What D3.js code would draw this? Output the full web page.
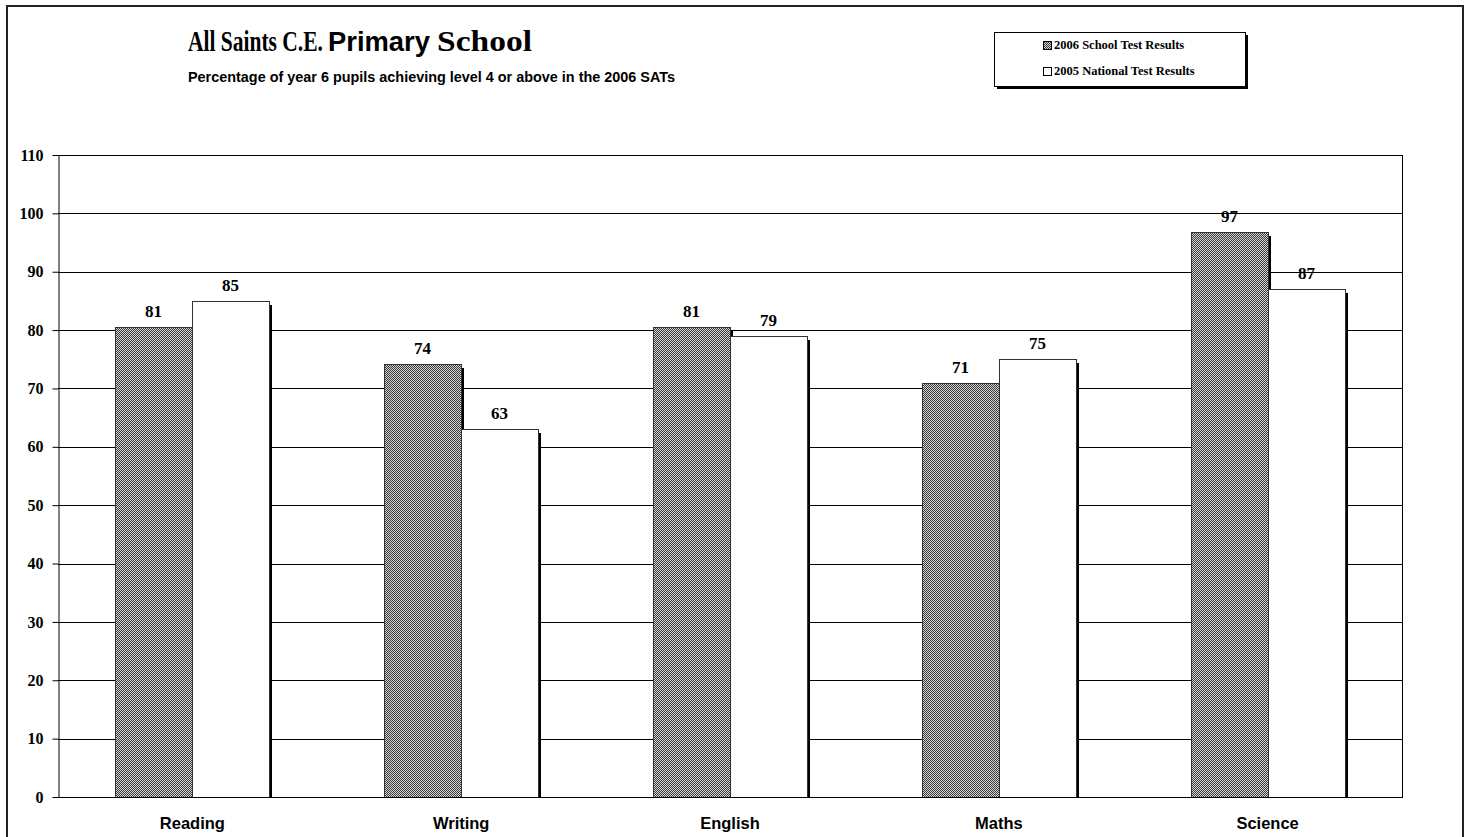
<!DOCTYPE html>
<html>
<head>
<meta charset="utf-8">
<script src="https://cdn.jsdelivr.net/npm/d3@7"></script>
<style>
  body { margin: 0; background: #fff; }
  svg { display: block; }
</style>
</head>
<body>
<script>
// data
const subjects = ["Reading", "Writing", "English", "Maths", "Science"];
const school2006 = [80.6, 74.2, 80.6, 71, 96.8];
const national2005 = [85, 63, 79, 75, 87];
const seriesNames = ["2006 School Test Results", "2005 National Test Results"];
const yTicks = [0, 10, 20, 30, 40, 50, 60, 70, 80, 90, 100, 110];

const W = 1472, H = 837;
const plot = { left: 58, right: 1402, top: 155, bottom: 797 };
const serif = "Liberation Serif, Times New Roman, serif";
const sans = "Liberation Sans, Arial, sans-serif";

const svg = d3.select("body").append("svg")
    .attr("width", W)
    .attr("height", H);

// dotted fill used for the school bars
const defs = svg.append("defs");
const pat = defs.append("pattern")
    .attr("id", "dots")
    .attr("width", 2).attr("height", 2)
    .attr("patternUnits", "userSpaceOnUse");
pat.append("rect").attr("width", 2).attr("height", 2).attr("fill", "#d4d4d4");
pat.append("rect").attr("width", 1).attr("height", 1).attr("fill", "#3a3a3a");
pat.append("rect").attr("x", 1).attr("y", 1).attr("width", 1).attr("height", 1).attr("fill", "#3a3a3a");

// outer frame
svg.append("rect")
    .attr("x", 7).attr("y", 6)
    .attr("width", 1456).attr("height", 840)
    .attr("fill", "none")
    .attr("stroke", "#222")
    .attr("stroke-width", 2);

// title - mixed fonts like the original; each piece squeezed to the width it has there
const titleParts = [
    { t: "All Saints C.E.", x: 188, w: 135, font: serif, size: 30 },
    { t: "Primary", x: 328, w: 102, font: sans, size: 28 },
    { t: "School", x: 437, w: 95, font: serif, size: 30 }
];
titleParts.forEach(p => {
    const txt = svg.append("text")
        .attr("font-weight", "bold").attr("font-size", p.size)
        .attr("font-family", p.font)
        .text(p.t);
    const k = p.w / txt.node().getComputedTextLength();
    txt.attr("transform", `translate(${p.x},51) scale(${k},1)`);
});

svg.append("text")
    .attr("x", 188).attr("y", 82)
    .attr("font-weight", "bold")
    .attr("font-size", 14)
    .attr("font-family", sans)
    .attr("textLength", 487).attr("lengthAdjust", "spacingAndGlyphs")
    .text("Percentage of year 6 pupils achieving level 4 or above in the 2006 SATs");

// legend
const lg = svg.append("g").attr("transform", "translate(994,32)");
lg.append("rect").attr("x", 3).attr("y", 3).attr("width", 251).attr("height", 54).attr("fill", "#000");
lg.append("rect").attr("x", 0.5).attr("y", 0.5).attr("width", 251).attr("height", 54)
    .attr("fill", "#fff").attr("stroke", "#000").attr("stroke-width", 1);
seriesNames.forEach((name, i) => {
    const row = lg.append("g").attr("transform", `translate(49,${17 + i * 26})`);
    row.append("rect")
        .attr("x", 0.5).attr("y", -7.5)
        .attr("width", 8).attr("height", 8)
        .attr("fill", i === 0 ? "url(#dots)" : "#fff")
        .attr("stroke", "#000");
    row.append("text")
        .attr("x", 11).attr("y", 0)
        .attr("font-size", 12.5)
        .attr("font-weight", "bold")
        .attr("font-family", serif)
        .text(name);
});

// scales
const x0 = d3.scaleBand()
    .domain(subjects)
    .range([plot.left, plot.right])
    .paddingInner(0.427)
    .paddingOuter(0.2135);
const x1 = d3.scaleBand()
    .domain([0, 1])
    .range([0, x0.bandwidth()]);
const y = d3.scaleLinear()
    .domain([0, 110])
    .range([plot.bottom, plot.top]);

// gridlines
svg.append("g")
    .selectAll("line")
    .data(yTicks.filter(d => d > 0))
    .join("line")
    .attr("x1", plot.left).attr("x2", plot.right)
    .attr("y1", d => Math.round(y(d)) + 0.5)
    .attr("y2", d => Math.round(y(d)) + 0.5)
    .attr("stroke", "#000")
    .attr("stroke-width", 1);

// right edge of plot area
svg.append("line")
    .attr("x1", plot.right + 0.5).attr("x2", plot.right + 0.5)
    .attr("y1", plot.top).attr("y2", plot.bottom)
    .attr("stroke", "#000");

// bars
const rows = subjects.map((s, i) => ({ s, vals: [school2006[i], national2005[i]] }));
const groups = svg.append("g")
    .selectAll("g")
    .data(rows)
    .join("g")
    .attr("transform", d => `translate(${Math.round(x0(d.s))},0)`);

groups.each(function(d) {
    const g = d3.select(this);
    d.vals.forEach((v, k) => {
        const bx = Math.round(x1(k));
        const bw = Math.round(x1.bandwidth());
        const top = Math.round(y(v));
        // shadow
        g.append("rect")
            .attr("x", bx + bw).attr("y", top + 4)
            .attr("width", 3).attr("height", plot.bottom - top - 4)
            .attr("fill", "#000");
        g.append("rect")
            .attr("x", bx + 0.5).attr("y", top + 0.5)
            .attr("width", bw).attr("height", plot.bottom - top)
            .attr("fill", k === 0 ? "url(#dots)" : "#fff")
            .attr("stroke", "#333")
            .attr("stroke-width", 1);
        g.append("text")
            .attr("x", bx + bw / 2).attr("y", top - 10)
            .attr("text-anchor", "middle")
            .attr("font-size", 17)
            .attr("font-weight", "bold")
            .attr("font-family", serif)
            .text(d3.format(".0f")(v));
    });
});

// y axis
const yAxis = svg.append("g")
    .attr("transform", `translate(${plot.left + 0.5},0)`)
    .call(d3.axisLeft(y).tickValues(yTicks).tickSize(6).tickPadding(9).tickSizeOuter(0));
yAxis.select(".domain").attr("stroke", "#000");
yAxis.selectAll(".tick line").attr("stroke", "#000");
yAxis.selectAll("text")
    .attr("font-size", 16)
    .attr("font-weight", "bold")
    .attr("font-family", serif)
    .attr("fill", "#000");

// x axis
const xAxis = svg.append("g")
    .attr("transform", `translate(0,${plot.bottom + 0.5})`)
    .call(d3.axisBottom(x0).tickSize(0).tickPadding(20));
xAxis.select(".domain").attr("stroke", "#000").attr("d", `M${plot.left},0H${plot.right + 1}`);
xAxis.selectAll("text")
    .attr("font-size", 16.5)
    .attr("font-weight", "bold")
    .attr("font-family", sans)
    .attr("fill", "#000");
</script>
</body>
</html>
